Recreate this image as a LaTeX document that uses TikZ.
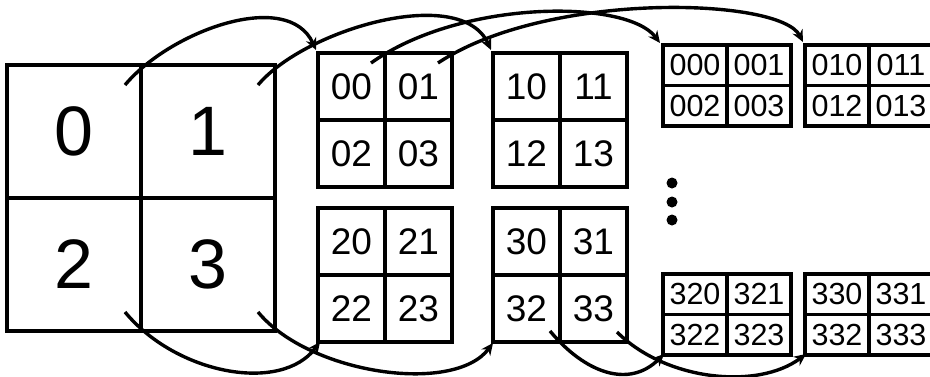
\documentclass[tikz,border=0pt]{standalone}
\usepackage{fontspec}
\setmainfont{Liberation Sans}
\usetikzlibrary{arrows.meta,calc}
\begin{document}
\begin{tikzpicture}[x=1pt,y=-1pt,
  cellA/.style={draw, line width=4pt, minimum width=134pt, minimum height=133pt, outer sep=0pt, inner sep=0pt, font=\fontsize{70}{80}\selectfont},
  cellB/.style={draw, line width=3.6pt, minimum width=67pt, minimum height=67pt, outer sep=0pt, inner sep=0pt, font=\fontsize{37}{42}\selectfont},
  cellC/.style={draw, line width=3.6pt, minimum width=64pt, minimum height=40.5pt, outer sep=0pt, inner sep=0pt, font=\fontsize{30.5}{34}\selectfont},
  link/.style={line width=3.4pt, -{Stealth[length=12pt,width=11pt,inset=4pt]}},
  bigdot/.style={circle, fill, inner sep=0pt, minimum size=11pt}
]
\clip (0,0) rectangle (930,376);
% level 1
\node[cellA] (c0) at (74,131.5) {0};
\node[cellA] (c1) at (208,131.5) {1};
\node[cellA] (c2) at (74,264.5) {2};
\node[cellA] (c3) at (208,264.5) {3};
% level 2
\node[cellB] (b00) at (351.5,86.5) {00};
\node[cellB] (b01) at (418.5,86.5) {01};
\node[cellB] (b02) at (351.5,153.5) {02};
\node[cellB] (b03) at (418.5,153.5) {03};
\node[cellB] (b10) at (526.5,86.5) {10};
\node[cellB] (b11) at (593.5,86.5) {11};
\node[cellB] (b12) at (526.5,153.5) {12};
\node[cellB] (b13) at (593.5,153.5) {13};
\node[cellB] (b20) at (351.5,241.5) {20};
\node[cellB] (b21) at (418.5,241.5) {21};
\node[cellB] (b22) at (351.5,308.5) {22};
\node[cellB] (b23) at (418.5,308.5) {23};
\node[cellB] (b30) at (526.5,241.5) {30};
\node[cellB] (b31) at (593.5,241.5) {31};
\node[cellB] (b32) at (526.5,308.5) {32};
\node[cellB] (b33) at (593.5,308.5) {33};
% level 3
\node[cellC] (d000) at (695,65.25) {000};
\node[cellC] (d001) at (759,65.25) {001};
\node[cellC] (d002) at (695,105.75) {002};
\node[cellC] (d003) at (759,105.75) {003};
\node[cellC] (d010) at (837,65.25) {010};
\node[cellC] (d011) at (901,65.25) {011};
\node[cellC] (d012) at (837,105.75) {012};
\node[cellC] (d013) at (901,105.75) {013};
\node[cellC] (d320) at (695,294.25) {320};
\node[cellC] (d321) at (759,294.25) {321};
\node[cellC] (d322) at (695,334.75) {322};
\node[cellC] (d323) at (759,334.75) {323};
\node[cellC] (d330) at (837,294.25) {330};
\node[cellC] (d331) at (901,294.25) {331};
\node[cellC] (d332) at (837,334.75) {332};
\node[cellC] (d333) at (901,334.75) {333};
% dots
\node[bigdot] (dot1) at (672,183) {};
\node[bigdot] (dot2) at (672,202) {};
\node[bigdot] (dot3) at (672,220) {};
% start and end points
\coordinate (s0) at ($(c0.north east)+(-16,20)$);
\coordinate (s1) at ($(c1.north east)+(-17,20)$);
\coordinate (s2) at ($(c2.south east)+(-16,-19)$);
\coordinate (s3) at ($(c3.south east)+(-17,-19)$);
\coordinate (s00) at ($(b00.north east)+(-14,10)$);
\coordinate (s01) at ($(b01.north east)+(-14,10)$);
\coordinate (s32) at ($(b32.south east)+(-10,-11)$);
\coordinate (s33) at ($(b33.south east)+(-10,-10)$);
\coordinate (e0) at ($(b00.north west)+(-2,-3)$);
\coordinate (e1) at ($(b10.north west)+(-2,-3)$);
\coordinate (e2) at ($(b22.south west)+(2,0)$);
\coordinate (e3) at ($(b32.south west)+(0,1)$);
\coordinate (e00) at ($(d000.north west)+(-3,-2)$);
\coordinate (e01) at ($(d010.north west)+(-2,-3)$);
\coordinate (e32) at ($(d322.south west)+(1,-1)$);
\coordinate (e33) at ($(d332.south west)+(1,-1)$);
% connectors
\draw[link] (s0) .. controls +(45,-54) and +(-28,-62) .. (e0);
\draw[link] (s1) .. controls +(47,-56) and +(-30,-66) .. (e1);
\draw[link] (s2) .. controls +(51,62) and +(-39,52) .. (e2);
\draw[link] (s3) .. controls +(51,62) and +(-39,52) .. (e3);
\draw[link] (s00) .. controls +(90,-64) and +(-33,-44) .. (e00);
\draw[link] (s01) .. controls +(108,-72) and +(-23,-45) .. (e01);
\draw[link] (s32) .. controls +(35,42) and +(-35,35) .. (e32);
\draw[link] (s33) .. controls +(49,49) and +(-48,36) .. (e33);
\end{tikzpicture}
\end{document}
